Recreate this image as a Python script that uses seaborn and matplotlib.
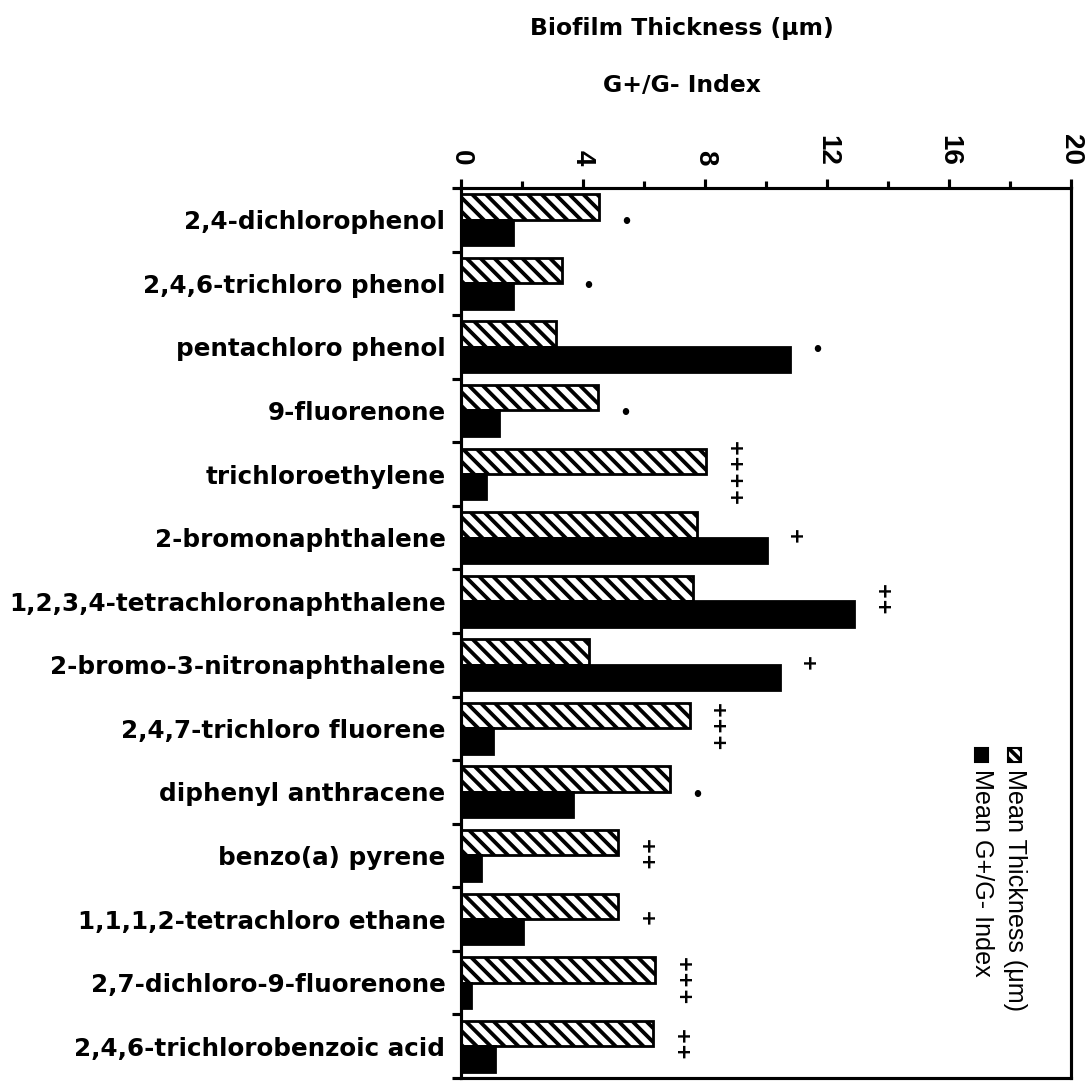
import numpy as np
import pandas as pd
import matplotlib
matplotlib.use("Agg")
import matplotlib.pyplot as plt
from matplotlib.patches import Rectangle
from matplotlib.ticker import MultipleLocator, FixedLocator
import seaborn as sns

# ---- data -------------------------------------------------------------
compounds = [
    "2,4-dichlorophenol",
    "2,4,6-trichloro phenol",
    "pentachloro phenol",
    "9-fluorenone",
    "trichloroethylene",
    "2-bromonaphthalene",
    "1,2,3,4-tetrachloronaphthalene",
    "2-bromo-3-nitronaphthalene",
    "2,4,7-trichloro fluorene",
    "diphenyl anthracene",
    "benzo(a) pyrene",
    "1,1,1,2-tetrachloro ethane",
    "2,7-dichloro-9-fluorenone",
    "2,4,6-trichlorobenzoic acid",
]
mean_thickness = [4.54, 3.30, 3.10, 4.50, 8.04, 7.73, 7.62, 4.20, 7.50, 6.87,
                  5.16, 5.16, 6.37, 6.30]
mean_gram_index = [1.70, 1.70, 10.80, 1.23, 0.82, 10.03, 12.90, 10.46, 1.04,
                   3.68, 0.66, 2.03, 0.33, 1.10]
significance = ["•", "•", "•", "•", "++++", "+", "++", "+", "+++", "•",
                "++", "+", "+++", "++"]
series_names = ["Mean Thickness (μm)", "Mean G+/G- Index"]
x_ticks = [0, 4, 8, 12, 16, 20]

# ---- style ------------------------------------------------------------
sns.set_style("ticks")
plt.rcParams["font.family"] = ["Liberation Sans", "DejaVu Sans"]
plt.rcParams["hatch.linewidth"] = 2.2
plt.rcParams["axes.linewidth"] = 1.8
for key in ["text.color", "axes.labelcolor", "xtick.color", "ytick.color",
            "axes.edgecolor"]:
    plt.rcParams[key] = "black"
HEAVY = ["DejaVu Sans"]

df = pd.DataFrame({
    "Compound": compounds * 2,
    "Measure": [series_names[0]] * len(compounds) + [series_names[1]] * len(compounds),
    "Value": mean_thickness + mean_gram_index,
})

DPI = 125
fig = plt.figure(figsize=(1086 / DPI, 1086 / DPI), dpi=DPI)
ax = fig.add_axes([0.4245, 0.0074, 0.5615, 0.8195])

sns.barplot(data=df, y="Compound", x="Value", hue="Measure", orient="h",
            palette=["white", "black"], saturation=1, edgecolor="black",
            linewidth=1.6, width=0.8, legend=False, ax=ax)

for bar in ax.containers[0]:
    bar.set_hatch("\\\\\\")

# significance symbols just past the longer bar of each pair
for i, (t, g, s) in enumerate(zip(mean_thickness, mean_gram_index, significance)):
    x = max(t, g) + 0.88
    if s == "•":
        ax.text(x, i + 0.05, s, ha="center", va="center", fontsize=13,
                fontweight="bold", color="black")
    else:
        ax.text(x, i, s, ha="center", va="center", rotation=-90,
                rotation_mode="anchor", fontsize=11.5, fontweight="bold",
                family=HEAVY, color="black")

# ---- axes -------------------------------------------------------------
ax.set_xlim(0, 20)
ax.set_ylim(len(compounds) - 0.5, -0.5)
ax.xaxis.tick_top()
ax.set_xticks(x_ticks)
ax.set_xticklabels([str(v) for v in x_ticks], rotation=-90, fontsize=16,
                   fontweight="bold", va="bottom", ha="center")
ax.xaxis.set_minor_locator(MultipleLocator(2))
ax.tick_params(axis="x", which="major", direction="out", length=5, width=1.8,
               pad=8)
ax.tick_params(axis="x", which="minor", direction="out", length=4, width=1.8)

ax.set_yticks(range(len(compounds)))
ax.set_yticklabels(compounds, fontsize=14.2, fontweight="bold", family=HEAVY)
ax.yaxis.set_minor_locator(FixedLocator(np.arange(-0.5, len(compounds), 1.0)))
ax.tick_params(axis="y", which="major", length=0, pad=9)
ax.tick_params(axis="y", which="minor", direction="out", length=5, width=1.8)
ax.set_xlabel("")
ax.set_ylabel("")
for sp in ax.spines.values():
    sp.set_visible(True)
    sp.set_linewidth(1.8)
    sp.set_color("black")

# ---- titles -----------------------------------------------------------
fig.text(0.628, 1 - 28 / 1086, "Biofilm Thickness (μm)", ha="center",
         va="center", fontsize=13.5, fontweight="bold", family=HEAVY)
fig.text(0.628, 1 - 85 / 1086, "G+/G- Index", ha="center", va="center",
         fontsize=13.5, fontweight="bold", family=HEAVY)

# ---- vertical legend --------------------------------------------------
leg_items = [(series_names[0], "white", "\\\\\\\\", 0.908),
             (series_names[1], "black", None, 0.854)]
for label, fc, hatch, xc in leg_items:
    sw = Rectangle((xc - 0.011, 0.355), 0.022, 0.016, transform=ax.transAxes,
                   facecolor=fc, edgecolor="black", linewidth=1.2, hatch=hatch,
                   clip_on=False)
    ax.add_patch(sw)
    ax.text(xc, 0.347, label, transform=ax.transAxes, rotation=-90,
            rotation_mode="anchor", ha="left", va="center", fontsize=14.5)

fig.savefig("out.png", dpi=DPI)
